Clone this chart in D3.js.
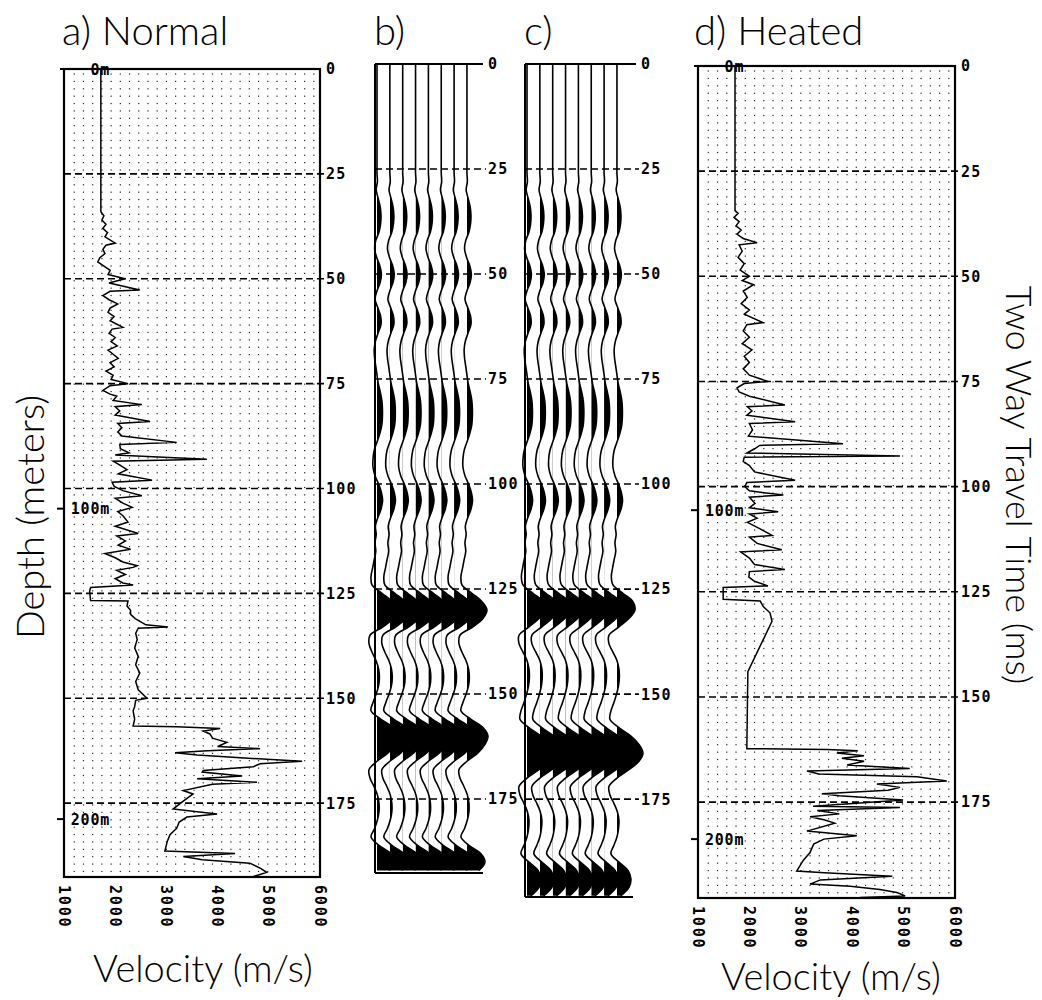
<!DOCTYPE html>
<html><head><meta charset="utf-8">
<script src="https://cdn.jsdelivr.net/npm/d3@7"></script>
<style>body{margin:0;background:#fff}svg{display:block}</style>
</head><body>
<svg id="chart" width="1042" height="1000"></svg>
<script>
// ---- data -------------------------------------------------------------
const timeTicks = [0, 25, 50, 75, 100, 125, 150, 175];
const velocityTicks = [1000, 2000, 3000, 4000, 5000, 6000];

// Sonic log, normal reservoir: [two-way time (ms), velocity (m/s)]
const normalLog = [[0,1720],[34,1720],[35,1780],[36,1740],[37,1820],[38,1760],[39,1850],[40,1800],[41.5,2000],[42,1820],[43,1760],[44,1800],[45,1700],[46,1660],[47,1780],[48,1900],[49,1860],[50,2190],[51,1880],[52.7,2480],[53,1900],[54,1760],[55,1880],[56,2050],[57,1900],[58,1860],[59,1980],[60,1900],[61.6,2150],[62,1940],[63,1880],[64,2000],[65,1920],[66,2040],[67,1860],[68,1960],[69,2060],[70,1900],[71,1980],[72,1820],[73,1960],[74,1920],[75,2250],[75.5,1900],[76.6,1760],[77.5,1900],[78,2030],[79,1960],[80,2520],[80.5,2000],[81.5,2090],[82.5,2000],[84,2680],[84.5,2050],[85.5,2130],[86.5,2050],[87.5,2130],[89,3200],[89.5,2090],[90.5,2100],[91.5,2270],[92,2000],[93,3790],[93.5,1960],[94.5,2100],[95.5,2230],[96.5,2060],[98,2720],[98.5,1940],[99.5,1980],[100.5,2150],[101.7,2520],[102.3,2000],[103.5,2150],[104.5,2330],[105.5,2050],[106.5,2150],[108,2250],[109,2000],[110.7,2450],[111.3,2030],[112.5,2200],[113.5,2060],[114.5,2300],[115.5,1800],[116.5,2000],[117.5,2150],[118.4,2430],[118.8,2350],[119.5,2030],[120.5,2200],[121.5,2000],[122.5,2150],[123,2350],[123.6,1520],[124.5,1500],[126.7,1520],[126.8,2250],[128,2230],[129,2300],[130,2300],[131,2390],[132.5,2600],[133,3030],[133.3,2450],[134.5,2400],[136,2430],[138,2380],[140,2450],[142,2400],[144,2480],[146,2400],[148,2450],[150,2620],[150.5,2400],[152,2380],[153,2350],[155,2380],[156.6,2350],[156.8,3200],[157.2,4050],[157.8,3720],[158.5,3850],[159.5,3900],[160.5,4180],[161.5,4000],[162,4830],[162.5,3800],[163,3170],[163.5,3600],[164.3,4600],[165,5650],[165.6,4830],[166.3,4700],[167.2,3720],[167.6,3700],[168.5,4480],[169.2,3600],[170,4770],[170.5,3900],[172,3330],[172.8,3520],[174.5,3330],[176.4,3130],[177.6,3990],[178.3,3400],[179.5,3250],[181,3200],[182.5,3070],[184,3020],[186.4,2970],[187,4340],[187.7,3330],[188.5,3700],[189.3,4630],[190.5,4830],[191.5,4960],[192.5,4700]];

// Sonic log, heated reservoir
const heatedLog = [[0,1720],[34.4,1720],[35,1780],[36,1700],[37,1800],[38,1740],[39,1840],[40,1760],[41,1880],[42,2150],[42.5,1800],[44,1860],[45.5,1780],[47,1900],[48.5,1820],[50,2000],[51,1860],[52,2080],[53.5,1880],[55,1960],[56.5,1840],[58,2000],[59,1900],[61,2260],[61.5,1950],[63,1880],[64.5,2000],[66,1860],[67.5,2050],[69,1900],[70.5,2000],[72,1880],[73.5,2000],[75,2360],[75.5,1900],[76.5,1760],[77.5,1800],[78.5,2000],[80.6,2690],[81,1960],[82,2050],[83,1950],[84.6,2890],[85,2000],[86.5,2060],[88,1980],[89.8,3820],[90.2,2200],[91,2100],[92,1950],[92.7,4930],[93,1900],[94,1880],[95,2000],[96.5,2100],[98.5,2890],[99,1950],[100,1910],[101,2000],[102,2660],[102.5,2000],[104,2110],[105,2000],[106,2560],[106.5,2000],[107.5,2150],[108.5,1960],[110,2200],[111.6,2440],[112,2000],[113.5,2150],[115,2630],[115.5,1830],[117,2000],[118.5,2100],[119.7,2690],[120.2,2000],[121.5,1990],[122.5,2100],[123.6,2360],[124,1490],[126.8,1490],[127.2,2210],[128.5,2270],[130,2400],[132,2440],[144,1970],[162.3,1950],[162.5,3510],[162.8,4110],[163.3,3700],[164,4230],[164.6,3800],[165.3,4230],[166.2,3900],[167,5120],[167.6,3120],[168.3,3350],[169,5260],[170,5840],[170.7,4480],[171.5,4930],[172.2,4700],[173,3410],[173.5,3750],[174.5,4990],[176,3240],[176.3,4930],[177,3320],[177.8,3750],[178.5,3180],[179.2,3450],[180,3660],[181.9,3120],[183,4090],[183.8,3450],[185,3250],[187,3180],[188.8,3050],[191.4,2920],[191.8,3460],[192.6,4780],[193.5,3380],[194.5,3180],[195,3960],[195.8,4540],[196.5,4870],[197.3,5030],[197.7,4150]];

// Depth markers along each log: label and two-way time (ms)
const normalDepthMarks = [{label: "0m", t: 0, tick: false}, {label: "100m", t: 104.8, tick: true}, {label: "200m", t: 178.8, tick: true}];
const heatedDepthMarks = [{label: "0m", t: 0, tick: false}, {label: "100m", t: 105.6, tick: true}, {label: "200m", t: 183.8, tick: true}];

// Synthetic seismogram traces, one sample every traceStep ms (relative amplitude)
const traceStep = 2;
const traceNormal = [0,0,0,0,0,0,0,0,0,0,0,0,0,0,
  0.02,-0.04,0.06,0.16,0.2,0.18,0.1,-0.06,-0.12,-0.02,
  0.14,0.22,0.16,0.0,-0.1,0.04,0.18,0.2,0.06,-0.08,
  -0.14,-0.12,-0.06,0.0,0.06,0.16,0.24,0.27,0.27,0.24,
  0.14,0.0,-0.14,-0.2,-0.2,-0.1,0.08,0.22,0.28,0.2,
  0.04,-0.08,-0.04,-0.1,-0.06,-0.14,-0.22,-0.3,-0.25,0.25,
  0.75,1.0,0.8,0.3,-0.35,-0.4,-0.25,-0.05,0.08,0.12,
  0.08,-0.04,-0.2,-0.3,0.2,0.8,1.05,0.9,0.55,0.0,
  -0.4,-0.35,-0.15,0.02,0.1,0.1,0.02,-0.12,-0.3,0.1,
  0.7,0.9,0.6];
const traceHeated = [0,0,0,0,0,0,0,0,0,0,0,0,0,0,
  0.02,-0.04,0.06,0.16,0.2,0.18,0.1,-0.06,-0.12,-0.02,
  0.14,0.22,0.16,0.0,-0.1,0.04,0.18,0.2,0.06,-0.08,
  -0.14,-0.12,-0.06,0.0,0.06,0.16,0.24,0.27,0.27,0.24,
  0.14,0.0,-0.14,-0.2,-0.2,-0.1,0.08,0.22,0.28,0.2,
  0.04,-0.08,-0.04,-0.1,-0.06,-0.14,-0.22,-0.28,-0.2,0.3,
  0.8,0.9,0.6,0.1,-0.4,-0.4,-0.2,0.0,0.1,0.12,
  0.08,-0.02,-0.15,-0.3,-0.35,0.1,0.7,1.1,1.3,1.1,
  0.6,0.0,-0.4,-0.35,-0.15,0.02,0.1,0.08,0.0,-0.15,
  -0.3,0.1,0.55,0.7,0.6,0.2];
const traceCount = 8;

// ---- drawing ----------------------------------------------------------
const svg = d3.select("#chart");
const titleFont = "Lato, 'Open Sans', sans-serif";
const monoFont = "'DejaVu Sans Mono', 'Liberation Mono', monospace";

function dotGrid(g, x, y, tMax) {
  const vs = d3.range(1200, 6000, 180);
  const ts = d3.range(1.2, tMax, 1.76);
  const cells = [];
  for (const t of ts) for (const v of vs) cells.push([v, t]);
  g.append("g").selectAll("rect").data(cells).join("rect")
    .attr("x", d => x(d[0]) - 0.6).attr("y", d => y(d[1]) - 0.6)
    .attr("width", 1.2).attr("height", 1.2).attr("fill", "#222");
}

function timeLabels(g, y, x0, xLabel) {
  const tg = g.append("g");
  tg.selectAll("line.dash").data(timeTicks.filter(t => t > 0)).join("line")
    .attr("class", "dash")
    .attr("x1", x0).attr("x2", xLabel - 2)
    .attr("y1", d => y(d)).attr("y2", d => y(d))
    .attr("stroke", "#000").attr("stroke-width", 1.6).attr("stroke-dasharray", "7,4");
  tg.selectAll("text").data(timeTicks).join("text")
    .attr("x", xLabel).attr("y", d => y(d)).attr("dy", "0.36em")
    .attr("font-family", monoFont).attr("font-weight", "bold").attr("font-size", 15)
    .attr("letter-spacing", 1.2).text(d => d);
}

function logPanel(opt) {
  const x = d3.scaleLinear().domain([1000, 6000]).range([opt.left, opt.right]);
  const y = d3.scaleLinear().domain([0, opt.tMax]).range([opt.top, opt.bottom]);
  const g = svg.append("g");
  dotGrid(g, x, y, opt.tMax);
  timeLabels(g, y, opt.left, opt.right + 6);
  // frame
  g.append("rect").attr("x", opt.left).attr("y", opt.top)
    .attr("width", opt.right - opt.left).attr("height", opt.bottom - opt.top)
    .attr("fill", "none").attr("stroke", "#000").attr("stroke-width", 2.2);
  g.append("line").attr("x1", opt.left - 4).attr("x2", opt.right)
    .attr("y1", opt.top).attr("y2", opt.top).attr("stroke", "#000").attr("stroke-width", 2.2);
  // velocity axis labels, rotated
  g.selectAll("text.vt").data(velocityTicks).join("text").attr("class", "vt")
    .attr("transform", d => `translate(${x(d)},${opt.bottom + 8}) rotate(90)`)
    .attr("dy", "0.36em")
    .attr("font-family", monoFont).attr("font-weight", "bold").attr("font-size", 15)
    .attr("letter-spacing", 1.8).text(d => d);
  // log curve
  g.append("path").datum(opt.log)
    .attr("d", d3.line().x(d => x(d[1])).y(d => y(d[0])))
    .attr("fill", "none").attr("stroke", "#000").attr("stroke-width", 1.5)
    .attr("stroke-linejoin", "miter");
  // depth markers
  const dm = g.append("g");
  dm.selectAll("line").data(opt.depth.filter(d => d.tick)).join("line")
    .attr("x1", opt.left - 7).attr("x2", opt.left).attr("y1", d => y(d.t)).attr("y2", d => y(d.t))
    .attr("stroke", "#000").attr("stroke-width", 2);
  dm.selectAll("text").data(opt.depth).join("text")
    .attr("x", x(1900)).attr("y", d => y(d.t)).attr("dy", "0.38em")
    .attr("text-anchor", "end")
    .attr("font-family", monoFont).attr("font-weight", "bold").attr("font-size", 15)
    .attr("letter-spacing", 0.8).text(d => d.label);
  return {x, y};
}

function tracePanel(opt) {
  const y = d3.scaleLinear().domain([0, opt.tMax]).range([opt.top, opt.bottom]);
  const amp = d3.scaleLinear().domain([0, 1]).range([0, 20]);
  const g = svg.append("g");
  const samples = opt.trace.map((a, i) => [i * traceStep, a]).filter(d => d[0] <= opt.tMax);
  timeLabels(g, y, opt.left, opt.labelX);
  g.append("line").attr("x1", opt.left).attr("x2", opt.labelX - 5)
    .attr("y1", opt.top).attr("y2", opt.top).attr("stroke", "#000").attr("stroke-width", 2);
  g.append("line").attr("x1", opt.left).attr("x2", opt.bottomEnd)
    .attr("y1", opt.bottom).attr("y2", opt.bottom).attr("stroke", "#000").attr("stroke-width", 2);
  g.append("line").attr("x1", opt.left).attr("x2", opt.left)
    .attr("y1", opt.top).attr("y2", opt.bottom).attr("stroke", "#000").attr("stroke-width", 2);
  const clipTop = opt.top, clipH = opt.bottom - opt.top;
  for (let k = 0; k < traceCount; k++) {
    const x0 = opt.first + k * opt.spacing;
    const id = `${opt.id}-clip-${k}`;
    svg.append("clipPath").attr("id", id).append("rect")
      .attr("x", x0).attr("y", clipTop).attr("width", 80).attr("height", clipH);
    const area = d3.area().curve(d3.curveCatmullRom)
      .y(d => y(d[0])).x0(x0).x1(d => x0 + amp(d[1]));
    g.append("path").datum(samples).attr("d", area)
      .attr("fill", "#000").attr("clip-path", `url(#${id})`);
    const line = d3.line().curve(d3.curveCatmullRom)
      .y(d => y(d[0])).x(d => x0 + amp(d[1]));
    g.append("path").datum(samples).attr("d", line)
      .attr("fill", "none").attr("stroke", "#000").attr("stroke-width", 1.6);
  }
}

logPanel({left: 64, right: 320, top: 69, bottom: 877, tMax: 192.6, log: normalLog, depth: normalDepthMarks});
tracePanel({id: "b", left: 375, top: 64, bottom: 873, tMax: 192.6, first: 377, spacing: 12.85, labelX: 488, bottomEnd: 483, trace: traceNormal});
tracePanel({id: "c", left: 525, top: 64, bottom: 897, tMax: 198.3, first: 527, spacing: 12.85, labelX: 641, bottomEnd: 633, trace: traceHeated});
logPanel({left: 698, right: 955, top: 66, bottom: 898, tMax: 197.8, log: heatedLog, depth: heatedDepthMarks});

// titles
const titles = [{t: "a) Normal", x: 62}, {t: "b)", x: 374}, {t: "c)", x: 524}, {t: "d) Heated", x: 694}];
svg.selectAll("text.title").data(titles).join("text").attr("class", "title")
  .attr("x", d => d.x).attr("y", 45)
  .attr("font-family", titleFont).attr("font-weight", 300).attr("font-size", 40).text(d => d.t);

svg.append("text").attr("transform", "translate(44,517) rotate(-90)")
  .attr("text-anchor", "middle").attr("font-family", titleFont).attr("font-weight", 300)
  .attr("font-size", 38).text("Depth (meters)");
svg.append("text").attr("transform", "translate(1006,485) rotate(90)")
  .attr("text-anchor", "middle").attr("font-family", titleFont).attr("font-weight", 300)
  .attr("font-size", 36).text("Two Way Travel Time (ms)");
svg.selectAll("text.vel").data([{x: 203, y: 982}, {x: 831, y: 990}]).join("text").attr("class", "vel")
  .attr("x", d => d.x).attr("y", d => d.y).attr("text-anchor", "middle")
  .attr("font-family", titleFont).attr("font-weight", 300).attr("font-size", 38)
  .text("Velocity (m/s)");
</script>
</body></html>
